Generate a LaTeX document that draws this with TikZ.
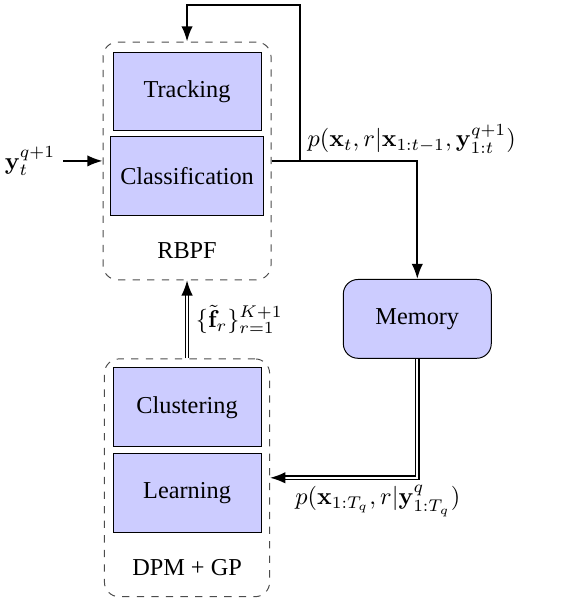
\documentclass[tikz,border=0pt]{standalone}
\usepackage{amsmath}
\usepackage[no-math]{fontspec}
\setmainfont{Liberation Serif}
\usetikzlibrary{arrows.meta, positioning}

\begin{document}
\begin{tikzpicture}[
  >={Latex[length=2.2mm]},
  block/.style={draw, fill=blue!20, minimum width=2.14cm, minimum height=1.14cm, inner sep=4pt},
  group/.style={draw=black!70, dashed, rounded corners=6pt, minimum height=3.44cm},
  flow/.style={thick},
  dflow/.style={semithick, double, double distance=0.8pt},
  lab/.style={inner sep=3pt},
]

\useasboundingbox (0,0) rectangle (8.13,-8.68);

% dashed frames of the two stages
\node[group, minimum width=2.43cm] (rbpf) at (2.706,-2.328) {};
\node[group, minimum width=2.39cm] (dpm) at (2.706,-6.912) {};

% RBPF stage
\node[block] (track) at (2.706,-1.323) {Tracking};
\node[block, below=2pt of track] (class) {Classification};
\node[lab] (rbpflab) at (2.706,-3.63) {RBPF};

% DPM + GP stage
\node[block] (clust) at (2.706,-5.892) {Clustering};
\node[block, below=2.5pt of clust] (learn) {Learning};
\node[lab] (dpmlab) at (2.706,-8.213) {DPM + GP};

\node[block, rounded corners=6pt] (mem) at (6.037,-4.613) {Memory};

% input measurement
\node[lab] (yin) at (0.434,-2.328) {$\mathbf{y}_t^{q+1}$};
\draw[->, flow] (yin) -- (rbpf);

% filter output: fed back and stored
\coordinate (split) at (4.338,-2.328);
\coordinate (loop) at (4.338,-0.072);
\draw[->, flow] (rbpf.east) -- (split) -- (loop) -| (rbpf.north);
\draw[->, flow] (rbpf.east) -| (mem.north);
\node[lab, anchor=south west] (post) at (split)
  {$p(\mathbf{x}_t, r|\mathbf{x}_{1:t-1}, \mathbf{y}_{1:t}^{q+1})$};

% memory to learning
\draw[->, dflow] (mem.south) |- (dpm.east);
\node[lab, anchor=north] (batch) at (5.466,-6.912)
  {$p(\mathbf{x}_{1:T_q}, r|\mathbf{y}^q_{1:T_q})$};

% learned models back to the filter
\draw[->, dflow] (dpm.north) -- (rbpf.south)
  node[midway, right] {$\{\tilde{\mathbf{f}}_r\}_{r=1}^{K+1}$};

\end{tikzpicture}
\end{document}
